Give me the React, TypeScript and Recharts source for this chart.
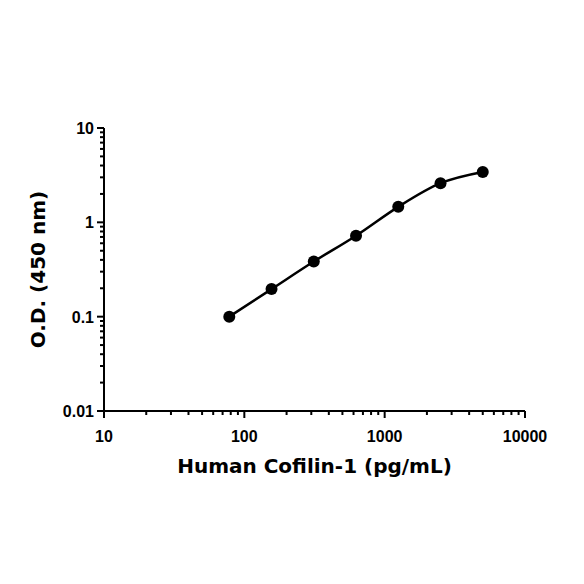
import { Line, LineChart, XAxis, YAxis, Label } from 'recharts';

// standard curve: concentration (pg/mL) vs O.D. at 450 nm
const CONC = [78.125, 156.25, 312.5, 625, 1250, 2500, 5000];
const OD = [0.1, 0.196, 0.384, 0.722, 1.46, 2.6, 3.42];

const X_MAJOR = [10, 100, 1000, 10000];
const X_TICKS = [
  10, 20, 30, 40, 50, 60, 70, 80, 90,
  100, 200, 300, 400, 500, 600, 700, 800, 900,
  1000, 2000, 3000, 4000, 5000, 6000, 7000, 8000, 9000,
  10000,
];
const Y_MAJOR = [0.01, 0.1, 1, 10];
const Y_TICKS = [
  0.01, 0.02, 0.03, 0.04, 0.05, 0.06, 0.07, 0.08, 0.09,
  0.1, 0.2, 0.3, 0.4, 0.5, 0.6, 0.7, 0.8, 0.9,
  1, 2, 3, 4, 5, 6, 7, 8, 9,
  10,
];

const data = CONC.map((c, i) => ({ conc: c, od: OD[i] }));

const tickFont = {
  fontFamily: '"Liberation Sans", Arial, sans-serif',
  fontWeight: 700,
  fontSize: 16,
  fill: '#000',
};

const titleFont = {
  fontFamily: '"DejaVu Sans", sans-serif',
  fontWeight: 700,
  fontSize: 20,
  fill: '#000',
};

function XTick(props: any) {
  const { x, y, payload } = props;
  const major = X_MAJOR.includes(payload.value);
  return (
    <g>
      <line x1={x} x2={x} y1={y} y2={y + (major ? 7 : 4)} stroke='#000' strokeWidth={2} />
      {major && (
        <text x={x} y={y + 31} textAnchor='middle' {...tickFont}>
          {payload.value}
        </text>
      )}
    </g>
  );
}

function YTick(props: any) {
  const { x, y, payload } = props;
  const major = Y_MAJOR.includes(payload.value);
  return (
    <g>
      <line x1={x} x2={x - (major ? 7 : 4)} y1={y} y2={y} stroke='#000' strokeWidth={2} />
      {major && (
        <text x={x - 10} y={y + 6} textAnchor='end' {...tickFont}>
          {payload.value}
        </text>
      )}
    </g>
  );
}

export default function App() {
  return (
    <div style={{ position: 'absolute', left: 0, top: 0, background: '#fff' }}>
      <LineChart
        width={584}
        height={584}
        data={data}
        margin={{ top: 128, right: 59, bottom: 103, left: 0 }}
      >
        <XAxis
          dataKey='conc'
          type='number'
          scale='log'
          domain={[10, 10000]}
          ticks={X_TICKS}
          interval={0}
          tick={<XTick />}
          tickLine={false}
          tickSize={0}
          tickMargin={0}
          height={70}
          axisLine={{ stroke: '#000', strokeWidth: 2 }}
          allowDataOverflow
        >
          <Label
            content={(p: any) => {
              const vb = p.viewBox;
              return (
                <text x={vb.x + vb.width / 2} y={vb.y + 62} textAnchor='middle' {...titleFont}>
                  Human Cofilin-1 (pg/mL)
                </text>
              );
            }}
          />
        </XAxis>
        <YAxis
          dataKey='od'
          type='number'
          scale='log'
          domain={[0.01, 10]}
          ticks={Y_TICKS}
          interval={0}
          tick={<YTick />}
          tickLine={false}
          tickSize={0}
          tickMargin={0}
          width={104}
          axisLine={{ stroke: '#000', strokeWidth: 2 }}
          allowDataOverflow
        >
          <Label
            content={(p: any) => {
              const vb = p.viewBox;
              const cy = vb.y + vb.height / 2;
              return (
                <text
                  x={45}
                  y={cy}
                  textAnchor='middle'
                  transform={`rotate(-90 45 ${cy})`}
                  {...titleFont}
                >
                  O.D. (450 nm)
                </text>
              );
            }}
          />
        </YAxis>
        <Line
          dataKey='od'
          type='monotone'
          stroke='#000'
          strokeWidth={2.5}
          dot={{ r: 6, fill: '#000', stroke: '#000', strokeWidth: 0 }}
          isAnimationActive={false}
        />
      </LineChart>
    </div>
  );
}
